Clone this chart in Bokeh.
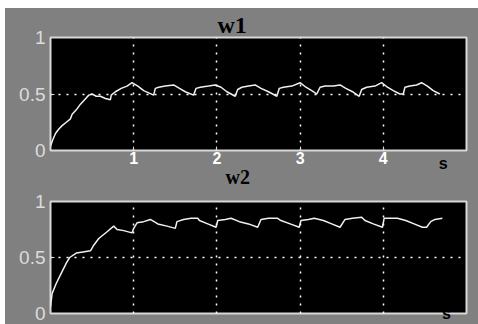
from bokeh.plotting import figure
from bokeh.layouts import column
from bokeh.models import Range1d, FixedTicker, LinearAxis, Title
from bokeh.embed import file_html
from bokeh.resources import INLINE

# ---- data ----
t1 = [0.0, 0.03, 0.06, 0.10, 0.14, 0.19, 0.24, 0.26, 0.31, 0.36,
      0.41, 0.46, 0.50, 0.55, 0.60, 0.66, 0.72, 0.73, 0.78, 0.85,
      0.92, 0.98, 1.05, 1.12, 1.18, 1.24, 1.26, 1.30, 1.38, 1.48,
      1.55, 1.62, 1.72, 1.75, 1.80, 1.90, 1.98, 2.05, 2.12, 2.22,
      2.25, 2.30, 2.38, 2.46, 2.53, 2.62, 2.72, 2.75, 2.80, 2.90,
      3.00, 3.07, 3.14, 3.20, 3.24, 3.30, 3.40, 3.48, 3.55, 3.63,
      3.71, 3.74, 3.80, 3.90, 3.98, 4.05, 4.12, 4.20, 4.24, 4.26,
      4.32, 4.40, 4.46, 4.53, 4.60, 4.68]
w1 = [0.04, 0.10, 0.15, 0.19, 0.22, 0.25, 0.28, 0.32, 0.36, 0.41,
      0.45, 0.49, 0.50, 0.48, 0.48, 0.46, 0.45, 0.49, 0.52, 0.55,
      0.57, 0.60, 0.57, 0.53, 0.51, 0.49, 0.55, 0.56, 0.57, 0.58,
      0.55, 0.52, 0.49, 0.55, 0.56, 0.57, 0.58, 0.56, 0.52, 0.48,
      0.54, 0.56, 0.57, 0.58, 0.55, 0.52, 0.48, 0.55, 0.56, 0.57,
      0.60, 0.56, 0.53, 0.50, 0.56, 0.57, 0.57, 0.58, 0.55, 0.52,
      0.48, 0.54, 0.56, 0.57, 0.60, 0.56, 0.53, 0.50, 0.50, 0.56,
      0.57, 0.58, 0.60, 0.57, 0.53, 0.50]

t2 = [0.0, 0.02, 0.07, 0.13, 0.19, 0.23, 0.31, 0.39, 0.48, 0.52,
      0.58, 0.68, 0.76, 0.80, 0.88, 0.98, 1.0, 1.04, 1.12, 1.20,
      1.29, 1.40, 1.50, 1.52, 1.60, 1.69, 1.77, 1.79, 1.89, 1.99,
      2.01, 2.10, 2.17, 2.27, 2.38, 2.49, 2.53, 2.62, 2.73, 2.77,
      2.88, 2.99, 3.01, 3.10, 3.17, 3.28, 3.38, 3.48, 3.54, 3.63,
      3.74, 3.78, 3.88, 3.99, 4.01, 4.10, 4.17, 4.27, 4.37, 4.47,
      4.52, 4.57, 4.62, 4.71]
w2 = [0.06, 0.18, 0.27, 0.36, 0.45, 0.50, 0.54, 0.55, 0.56, 0.61,
      0.67, 0.73, 0.78, 0.75, 0.74, 0.72, 0.76, 0.81, 0.82, 0.84,
      0.80, 0.78, 0.76, 0.82, 0.84, 0.85, 0.85, 0.83, 0.80, 0.77,
      0.83, 0.84, 0.85, 0.82, 0.80, 0.77, 0.84, 0.85, 0.85, 0.83,
      0.80, 0.77, 0.83, 0.84, 0.85, 0.83, 0.80, 0.77, 0.84, 0.85,
      0.86, 0.83, 0.80, 0.77, 0.85, 0.85, 0.85, 0.83, 0.80, 0.77,
      0.77, 0.82, 0.84, 0.85]

x_ticks = [1, 2, 3, 4]
y_ticks = [0, 0.5, 1]
y_labels = {0: "0", 0.5: "0.5", 1: "1"}
titles = ["w1", "w2"]
unit = "s"
unit_pos = [4.72, 4.76]

GRAY = "#808080"


def make_panel(t, w, height, top_border, bottom_border, show_xlabels):
    p = figure(width=473, height=height,
               x_range=Range1d(0, 5), y_range=Range1d(0, 1),
               output_backend="svg", toolbar_location=None,
               min_border_left=45, min_border_right=12,
               min_border_top=top_border, min_border_bottom=bottom_border)
    p.background_fill_color = "black"
    p.border_fill_color = GRAY
    p.outline_line_color = "#d8d8d8"
    p.outline_line_width = 2

    p.line(t, w, line_color="#f0f0f0", line_width=1.5)

    p.xaxis.ticker = FixedTicker(ticks=x_ticks)
    p.yaxis.ticker = FixedTicker(ticks=y_ticks)
    p.yaxis.major_label_overrides = y_labels
    for ax in (p.xaxis[0], p.yaxis[0]):
        ax.axis_line_color = None
        ax.major_tick_line_color = "#d8d8d8"
        ax.major_tick_in = 4
        ax.major_tick_out = 0
        ax.minor_tick_line_color = None
    p.yaxis.major_label_text_color = "#dcdcdc"
    p.yaxis.major_label_text_font = "Liberation Sans"
    p.yaxis.major_label_text_font_size = "19px"
    p.yaxis.major_label_standoff = 5
    if show_xlabels:
        p.xaxis.major_label_text_color = "white"
        p.xaxis.major_label_text_font = "Liberation Sans"
        p.xaxis.major_label_text_font_style = "bold"
        p.xaxis.major_label_text_font_size = "16px"
        p.xaxis.major_label_standoff = 1
    else:
        p.xaxis.visible = False

    p.xgrid.grid_line_color = "white"
    p.xgrid.grid_line_dash = "2 6"
    p.xgrid.grid_line_width = 1.5
    p.ygrid.ticker = FixedTicker(ticks=[0.5])
    p.ygrid.grid_line_color = "white"
    p.ygrid.grid_line_dash = "2 6"
    p.ygrid.grid_line_width = 1.5
    return p


def unit_axis(pos, standoff):
    ax = LinearAxis(ticker=FixedTicker(ticks=[pos]),
                    major_label_overrides={pos: unit})
    ax.axis_line_color = None
    ax.major_tick_line_color = None
    ax.minor_tick_line_color = None
    ax.major_tick_in = 0
    ax.major_tick_out = 0
    ax.major_label_text_color = "black"
    ax.major_label_text_font = "Liberation Sans"
    ax.major_label_text_font_style = "bold"
    ax.major_label_text_font_size = "16px"
    ax.major_label_standoff = standoff
    return ax


def make_title(text, offset, size, standoff, valign):
    return Title(text=text, align="left", offset=offset,
                 standoff=standoff, vertical_align=valign,
                 text_font="Liberation Serif",
                 text_font_style="bold", text_font_size=size,
                 text_color="black")


p1 = make_panel(t1, w1, 182, 29, 40, True)
p1.add_layout(make_title(titles[0], 167, "24px", 0, "bottom"), "above")
p1.add_layout(unit_axis(unit_pos[0], -12), "below")
p1.add_layout(make_title(titles[1], 175, "20px", -18, "top"), "below")

p2 = make_panel(t2, w2, 134, 11, 11, False)
p2.add_layout(unit_axis(unit_pos[1], -9), "below")

layout = column(p1, p2, spacing=0)
layout.styles = {"background-color": GRAY, "margin-top": "8px",
                 "margin-left": "5px"}

html = file_html(layout, INLINE)
open("out.html", "w").write(html)
